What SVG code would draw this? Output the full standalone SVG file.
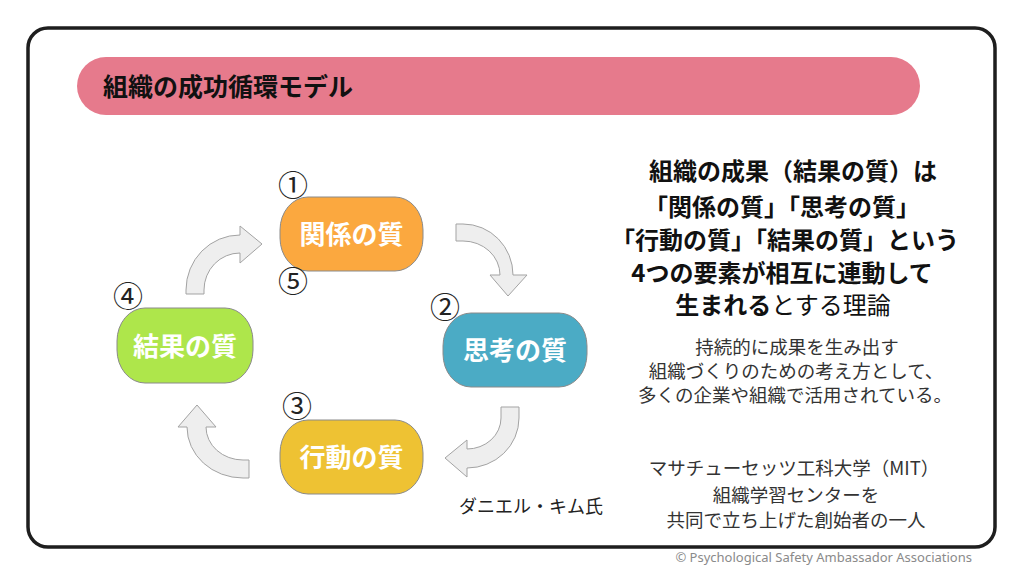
<svg xmlns="http://www.w3.org/2000/svg" width="1024" height="576" viewBox="0 0 1024 576">
  <style>
    .jp { font-family: "Noto Sans CJK JP", "Noto Sans", sans-serif; }
    .node-shape { stroke: #8a8a8a; stroke-width: 1; }
    .node-label { font-family: "Noto Sans CJK JP", sans-serif; font-size: 26px; font-weight: bold; fill: #ffffff; text-anchor: middle; }
    .num { font-family: "Noto Sans CJK JP", sans-serif; font-size: 30px; fill: #222222; text-anchor: middle; }
    .arrow { fill: #eeeeee; stroke: #a3a3a3; stroke-width: 1; stroke-linejoin: miter; }
    .bold { font-family: "Noto Sans CJK JP", sans-serif; font-size: 24px; font-weight: bold; fill: #111111; text-anchor: middle; }
    .body { font-family: "Noto Sans CJK JP", sans-serif; font-size: 18.5px; fill: #333333; text-anchor: middle; }
  </style>
  <rect width="1024" height="576" fill="#ffffff"/>
  <rect x="28" y="28" width="967" height="519" rx="20" fill="#ffffff" stroke="#1e1e1e" stroke-width="3.5"/>

  <g id="title">
    <rect x="77" y="57" width="843" height="58" rx="29" fill="#e67a8c"/>
    <text x="103" y="96" class="jp" font-size="25" font-weight="bold" fill="#111111">組織の成功循環モデル</text>
  </g>

  <g id="connectors">
    <path class="arrow" d="M456,224 H463 A50,51 0 0 1 513,275 H527 L508,296 L490,275 H500 A37,34 0 0 0 463,241 H456 Z"/>
    <path class="arrow" d="M501,407 H519 V418 A52,50 0 0 1 467,468 V477 L445,458 L467,440 V449 A34,31 0 0 0 501,418 Z"/>
    <path class="arrow" d="M249,478 H243 A56,51 0 0 1 187,427 H178 L197,405 L216,427 H206 A37,33 0 0 0 243,460 H249 Z"/>
    <path class="arrow" d="M186,294 V290 A54,55 0 0 1 240,235 V226 L262,244 L240,263 V253 A36,37 0 0 0 204,290 V294 Z"/>
  </g>

  <g id="node-relationship">
    <rect class="node-shape" x="280" y="197" width="143" height="74" rx="28" ry="33" fill="#fba83f"/>
    <text class="node-label" x="351.5" y="244">関係の質</text>
  </g>
  <g id="node-thinking">
    <rect class="node-shape" x="443" y="313" width="144" height="74" rx="28" ry="33" fill="#4babc5"/>
    <text class="node-label" x="515" y="360">思考の質</text>
  </g>
  <g id="node-action">
    <rect class="node-shape" x="280" y="420" width="143" height="74" rx="28" ry="33" fill="#eec233"/>
    <text class="node-label" x="351.5" y="467">行動の質</text>
  </g>
  <g id="node-result">
    <rect class="node-shape" x="117" y="308" width="136" height="75" rx="28" ry="33" fill="#aee64b"/>
    <text class="node-label" x="185" y="355.5">結果の質</text>
  </g>

  <g id="numbers">
    <text class="num" x="293" y="196">①</text>
    <text class="num" x="445" y="318">②</text>
    <text class="num" x="297" y="417">③</text>
    <text class="num" x="128" y="307">④</text>
    <text class="num" x="293" y="292">⑤</text>
  </g>

  <g id="theory-text">
    <text class="bold" x="793" y="180">組織の成果（結果の質）は</text>
    <text class="bold" x="782" y="216">「関係の質」「思考の質」</text>
    <text class="bold" x="785" y="249">「行動の質」「結果の質」という</text>
    <text class="bold" x="782" y="282">4つの要素が相互に連動して</text>
    <text class="bold" x="783" y="314">生まれる<tspan font-weight="normal">とする理論</tspan></text>
  </g>

  <g id="usage-text">
    <text class="body" x="797" y="354">持続的に成果を生み出す</text>
    <text class="body" x="796" y="378">組織づくりのための考え方として、</text>
    <text class="body" x="795" y="402">多くの企業や組織で活用されている。</text>
  </g>

  <g id="author">
    <text class="jp" x="459" y="513" font-size="18" fill="#222222">ダニエル・キム氏</text>
    <text class="body" x="794" y="475">マサチューセッツ工科大学（MIT）</text>
    <text class="body" x="796" y="502">組織学習センターを</text>
    <text class="body" x="796" y="527">共同で立ち上げた創始者の一人</text>
  </g>

  <text x="972" y="562" font-family="'Noto Sans', 'Open Sans', sans-serif" font-size="13" fill="#8a8a8a" text-anchor="end">© Psychological Safety Ambassador Associations</text>
</svg>
